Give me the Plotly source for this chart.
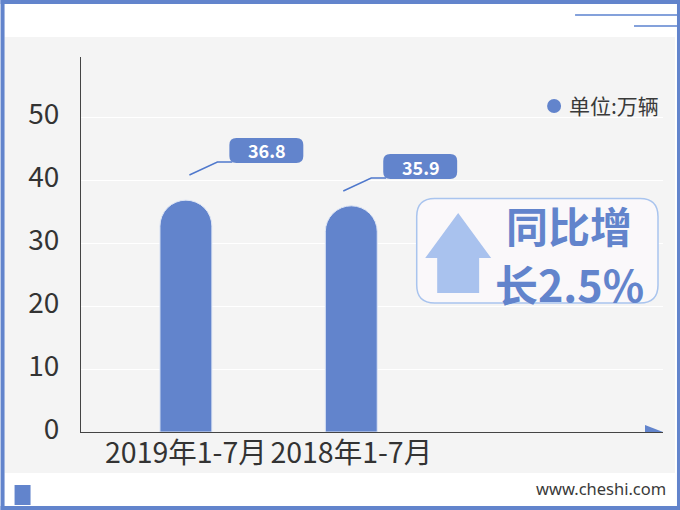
import plotly.graph_objects as go

categories = ["2019年1-7月", "2018年1-7月"]
values = [36.8, 35.9]
value_labels = ["36.8", "35.9"]
y_ticks = [0, 10, 20, 30, 40, 50]
legend_text = "单位:万辆"
badge_lines = ["同比增", "长2.5%"]
site = "www.cheshi.com"

W, H = 680, 510
L, R, T, B = 80.5, 663, 57, 432
BLUE = "#6284cc"
CJK = "Noto Sans CJK SC, Noto Sans, sans-serif"


def px(x):
    return (x - L) / (R - L)


def py(y):
    return 1 - (y - T) / (B - T)


def P(*pts, close=True):
    d = "M" + " L".join(f"{px(x):.5f},{py(y):.5f}" for x, y in pts)
    return d + (" Z" if close else "")


def rect(x0, y0, x1, y1, fill, line=None, lw=0):
    return dict(type="rect", xref="paper", yref="paper", x0=px(x0), x1=px(x1), y0=py(y0), y1=py(y1),
                fillcolor=fill, line=dict(color=line or fill, width=lw), layer="below")


def rrect(x0, y0, x1, y1, r, fill, line=None, lw=0, layer="above"):
    # rounded corners approximated with quadratic curves in paper coordinates
    d = (f"M{px(x0+r):.5f},{py(y0):.5f} L{px(x1-r):.5f},{py(y0):.5f} "
         f"Q{px(x1):.5f},{py(y0):.5f} {px(x1):.5f},{py(y0+r):.5f} "
         f"L{px(x1):.5f},{py(y1-r):.5f} Q{px(x1):.5f},{py(y1):.5f} {px(x1-r):.5f},{py(y1):.5f} "
         f"L{px(x0+r):.5f},{py(y1):.5f} Q{px(x0):.5f},{py(y1):.5f} {px(x0):.5f},{py(y1-r):.5f} "
         f"L{px(x0):.5f},{py(y0+r):.5f} Q{px(x0):.5f},{py(y0):.5f} {px(x0+r):.5f},{py(y0):.5f} Z")
    return dict(type="path", xref="paper", yref="paper", path=d, fillcolor=fill,
                line=dict(color=line or fill, width=lw), layer=layer)


def poly(pts, fill):
    return dict(type="path", xref="paper", yref="paper", path=P(*pts), fillcolor=fill,
                line=dict(width=0), layer="above")


def pline(pts, color, width=1.4):
    return dict(type="path", xref="paper", yref="paper", path=P(*pts, close=False),
                line=dict(color=color, width=width), layer="above")


def label(x, y, text, size, color, bold=False, anchor="center", family=CJK):
    return dict(xref="paper", yref="paper", x=px(x), y=py(y), text=f"<b>{text}</b>" if bold else text,
                showarrow=False, xanchor=anchor, yanchor="middle",
                font=dict(size=size, color=color, family=family))


shapes = [
    rect(4, 37, 675, 473, "#f4f4f4"),
    # outer frame
    rect(0, 0, 680, 4, BLUE), rect(0, 506, 680, 510, BLUE),
    rect(0, 0, 4, 510, BLUE), rect(677, 0, 680, 510, BLUE),
    # header rules and footer block
    pline([(575, 15), (677, 15)], "#5b82cf"),
    pline([(634, 26), (677, 26)], "#5b82cf"),
    rect(14, 485, 30, 505, BLUE),
    # axis arrow
    poly([(645, 425), (663, 432), (645, 432)], BLUE),
    # callouts
    pline([(189, 175), (217, 162), (232, 162)], "#4f78cc"),
    rrect(229, 138, 303, 163, 7, BLUE),
    pline([(343, 191), (371, 178), (386, 178)], "#4f78cc"),
    rrect(383, 154, 457, 179, 7, BLUE),
    # legend dot
    dict(type="circle", xref="paper", yref="paper", x0=px(547), x1=px(561), y0=py(99), y1=py(113),
         fillcolor=BLUE, line=dict(width=0)),
    # badge
    rrect(416.5, 198.5, 658, 303, 18, "#faf8fa", "#a9c4ee", 1.5),
    poly([(458, 213), (491, 258), (479, 258), (479, 293), (437, 293), (437, 258), (425, 258)], "#a9c2ee"),
]

annotations = [
    label(267, 150, value_labels[0], 18, "white", True),
    label(421, 166.5, value_labels[1], 18, "white", True),
    label(566.5, 105, legend_text, 21, "#3a3a3a", anchor="left"),
    label(569, 224, badge_lines[0], 42, BLUE, True),
    label(569, 283, badge_lines[1], 43, BLUE, True),
    label(668, 489, site, 16.5, "#3a3a3a", anchor="right", family="Noto Sans, sans-serif"),
]

fig = go.Figure(go.Bar(
    x=categories, y=values, width=0.314,
    marker=dict(color=BLUE, cornerradius=26, line=dict(color="#dde5f5", width=1)),
    hoverinfo="skip",
))

unit = 165.5
fig.update_layout(
    width=W, height=H, autosize=False, showlegend=False,
    margin=dict(l=L, r=W - R, t=T, b=H - B, pad=0),
    paper_bgcolor="white", plot_bgcolor="rgba(0,0,0,0)",
    shapes=shapes, annotations=annotations,
    xaxis=dict(type="category", range=[-105 / unit, 1 + (R - 351) / unit], showgrid=False,
               showline=True, linecolor="#444444", linewidth=1, ticks="",
               ticklabelstandoff=-4,
               tickfont=dict(size=28.5, color="#333333", family=CJK)),
    yaxis=dict(range=[0, (B - T) / 6.3], tickvals=y_ticks, showgrid=True, gridcolor="#ffffff", gridwidth=1,
               zeroline=False, showline=True, linecolor="#444444", linewidth=1, ticks="",
               ticklabelstandoff=15, ticklabelshift=-3, tickfont=dict(size=28, color="#333333", family=CJK)),
)

fig.write_html("out.html", post_script="document.body.style.margin='0';",
               config={"displayModeBar": False})
